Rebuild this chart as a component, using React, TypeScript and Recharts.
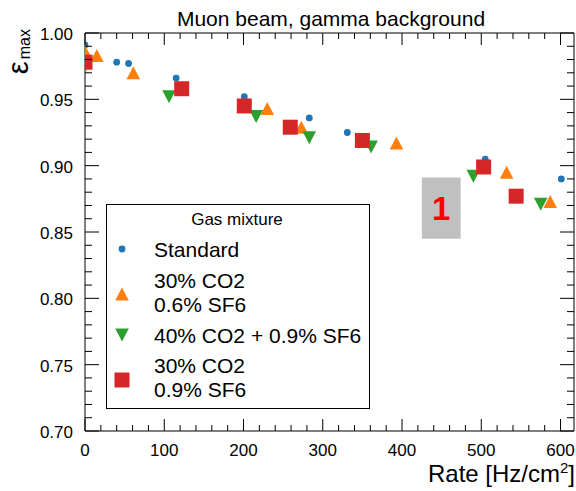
import React from 'react';
import { ScatterChart, Scatter, XAxis, YAxis, ReferenceArea, Legend, Customized } from 'recharts';

// Rate [Hz/cm2] and maximum efficiency for each gas mixture
const standardRate = [0, 40, 55, 115, 201, 283, 331, 505, 601];
const standardEff = [0.991, 0.978, 0.977, 0.966, 0.952, 0.936, 0.925, 0.905, 0.89];

const mixA_Rate = [0, 15, 61, 230, 273, 393, 532, 587];
const mixA_Eff = [0.986, 0.983, 0.97, 0.943, 0.929, 0.917, 0.895, 0.873];

const mixB_Rate = [0, 106, 216, 283, 361, 490, 575];
const mixB_Eff = [0.975, 0.952, 0.937, 0.921, 0.914, 0.892, 0.871];

const mixC_Rate = [0, 122, 201, 259, 350, 503, 544];
const mixC_Eff = [0.978, 0.958, 0.945, 0.929, 0.919, 0.899, 0.877];

const seriesNames = ['Standard', '30% CO2 0.6% SF6', '40% CO2 + 0.9% SF6', '30% CO2 0.9% SF6'];
const seriesLines = [['Standard'], ['30% CO2', '0.6% SF6'], ['40% CO2 + 0.9% SF6'], ['30% CO2', '0.9% SF6']];
const seriesColors = ['#1f77b4', '#ff7f0e', '#2ca02c', '#d62728'];

const xMajorTicks = [0, 100, 200, 300, 400, 500, 600];
const yMajorTicks = [0.7, 0.75, 0.8, 0.85, 0.9, 0.95, 1.0];
const xDomain = [0, 617];
const yDomain = [0.7, 1.0];

// minor ticks: every 20 on x, every 0.01 on y
const xTicks = Array.from({ length: 31 }, (_, i) => i * 20);
const yTicks = Array.from({ length: 31 }, (_, i) => +(0.7 + i * 0.01).toFixed(2));

const toPoints = (xs: number[], ys: number[]) => xs.map((x, i) => ({ rate: x, eff: ys[i] }));

const FONT = '"Liberation Sans", Arial, Helvetica, sans-serif';

const isXMajor = (v: number) => xMajorTicks.includes(v);
const isYMajor = (v: number) => yMajorTicks.some((m) => Math.abs(m - v) < 1e-6);

const BottomTick = ({ x, y, payload }: any) => {
  const major = isXMajor(payload.value);
  return (
    <g>
      <line x1={x} y1={y} x2={x} y2={y - (major ? 12 : 6)} stroke="#000" />
      {major && (
        <text x={x} y={y + 25} textAnchor="middle" fontSize={17} fontFamily={FONT} fill="#000">
          {payload.value}
        </text>
      )}
    </g>
  );
};

const TopTick = ({ x, y, payload }: any) => {
  const major = isXMajor(payload.value);
  return <line x1={x} y1={y} x2={x} y2={y + (major ? 12 : 6)} stroke="#000" />;
};

const LeftTick = ({ x, y, payload }: any) => {
  const major = isYMajor(payload.value);
  return (
    <g>
      <line x1={x} y1={y} x2={x + (major ? 14 : 7)} y2={y} stroke="#000" />
      {major && (
        <text x={x - 12} y={y + 7} textAnchor="end" fontSize={17} fontFamily={FONT} fill="#000">
          {Number(payload.value).toFixed(2)}
        </text>
      )}
    </g>
  );
};

const RightTick = ({ x, y, payload }: any) => {
  const major = isYMajor(payload.value);
  return <line x1={x} y1={y} x2={x - (major ? 14 : 7)} y2={y} stroke="#000" />;
};

// marker shapes
const DotMark = ({ cx, cy, fill }: any) => <circle cx={cx} cy={cy} r={3.4} fill={fill} />;
const UpMark = ({ cx, cy, fill }: any) => (
  <path d={`M${cx},${cy - 6.5} L${cx + 6.8},${cy + 6.5} L${cx - 6.8},${cy + 6.5} Z`} fill={fill} />
);
const DownMark = ({ cx, cy, fill }: any) => (
  <path d={`M${cx - 6.8},${cy - 6.5} L${cx + 6.8},${cy - 6.5} L${cx},${cy + 6.5} Z`} fill={fill} />
);
const SquareMark = ({ cx, cy, fill }: any) => (
  <rect x={cx - 7.5} y={cy - 7.5} width={15} height={15} fill={fill} />
);
const markers = [DotMark, UpMark, DownMark, SquareMark];

const LegendBox = () => {
  const rowY = [45, 90, 131, 176];
  const lineY = [[52.5], [84, 108], [139], [169, 193]];
  return (
    <svg width={265} height={206} style={{ display: 'block', fontFamily: FONT }}>
      <rect x={0.5} y={0.5} width={263} height={204} fill="#fff" stroke="#000" />
      <text x={131} y={21} textAnchor="middle" fontSize={17}>
        Gas mixture
      </text>
      {seriesNames.map((name, i) => {
        const Mark = markers[i];
        return (
          <g key={name}>
            <Mark cx={16} cy={rowY[i]} fill={seriesColors[i]} />
            {seriesLines[i].map((ln, j) => (
              <text key={ln} x={48} y={lineY[i][j]} fontSize={21}>
                {ln}
              </text>
            ))}
          </g>
        );
      })}
    </svg>
  );
};

const Titles = () => (
  <g fontFamily={FONT} fill="#000">
    <text x={331} y={26} textAnchor="middle" fontSize={21}>
      Muon beam, gamma background
    </text>
    <text x={575} y={482} textAnchor="end" fontSize={24}>
      Rate [Hz/cm
      <tspan dy={-9} fontSize={15}>
        2
      </tspan>
      <tspan dy={9}>]</tspan>
    </text>
    {/* rotated y title: epsilon with "max" subscript */}
    <text transform="translate(28,29) rotate(-90)" textAnchor="end">
      <tspan fontSize={29}>ε</tspan>
      <tspan fontSize={16} dx={2} dy={2}>
        max
      </tspan>
    </text>
  </g>
);

export default function App() {
  const data = [
    toPoints(standardRate, standardEff),
    toPoints(mixA_Rate, mixA_Eff),
    toPoints(mixB_Rate, mixB_Eff),
    toPoints(mixC_Rate, mixC_Eff),
  ];

  return (
    <div style={{ position: 'absolute', left: 0, top: 0, fontFamily: FONT, background: '#fff' }}>
      <ScatterChart width={576} height={491} margin={{ top: 32, right: 1, bottom: 59, left: 84 }}>
        <XAxis
          xAxisId="x"
          type="number"
          dataKey="rate"
          domain={xDomain}
          allowDataOverflow
          ticks={xTicks}
          interval={0}
          height={1}
          tickSize={0}
          tickMargin={0}
          tickLine={false}
          tick={<BottomTick />}
          axisLine={{ stroke: '#000' }}
        />
        <XAxis
          xAxisId="xt"
          orientation="top"
          type="number"
          dataKey="rate"
          domain={xDomain}
          allowDataOverflow
          ticks={xTicks}
          interval={0}
          height={1}
          tickSize={0}
          tickMargin={0}
          tickLine={false}
          tick={<TopTick />}
          axisLine={{ stroke: '#000' }}
        />
        <YAxis
          yAxisId="y"
          type="number"
          dataKey="eff"
          domain={yDomain}
          allowDataOverflow
          ticks={yTicks}
          interval={0}
          width={1}
          tickSize={0}
          tickMargin={0}
          tickLine={false}
          tick={<LeftTick />}
          axisLine={{ stroke: '#000' }}
        />
        <YAxis
          yAxisId="yr"
          orientation="right"
          type="number"
          dataKey="eff"
          domain={yDomain}
          allowDataOverflow
          ticks={yTicks}
          interval={0}
          width={1}
          tickSize={0}
          tickMargin={0}
          tickLine={false}
          tick={<RightTick />}
          axisLine={{ stroke: '#000' }}
        />
        <ReferenceArea
          xAxisId="x"
          yAxisId="y"
          x1={425}
          x2={474}
          y1={0.845}
          y2={0.891}
          fill="#c0c0c0"
          fillOpacity={1}
          stroke="none"
          label={{ value: '1', position: 'center', fill: '#ff0000', fontSize: 33, fontWeight: 'bold', fontFamily: FONT }}
        />
        {data.map((pts, i) => {
          const Mark = markers[i];
          return (
            <Scatter
              key={seriesNames[i]}
              name={seriesNames[i]}
              xAxisId="x"
              yAxisId="y"
              data={pts}
              fill={seriesColors[i]}
              isAnimationActive={false}
              shape={(p: any) => <Mark cx={p.cx} cy={p.cy} fill={seriesColors[i]} />}
            />
          );
        })}
        <Legend
          layout="vertical"
          align="center"
          verticalAlign="middle"
          wrapperStyle={{ left: 106, top: 204, width: 265, height: 206 }}
          content={() => <LegendBox />}
        />
        <Customized component={<Titles />} />
      </ScatterChart>
    </div>
  );
}
